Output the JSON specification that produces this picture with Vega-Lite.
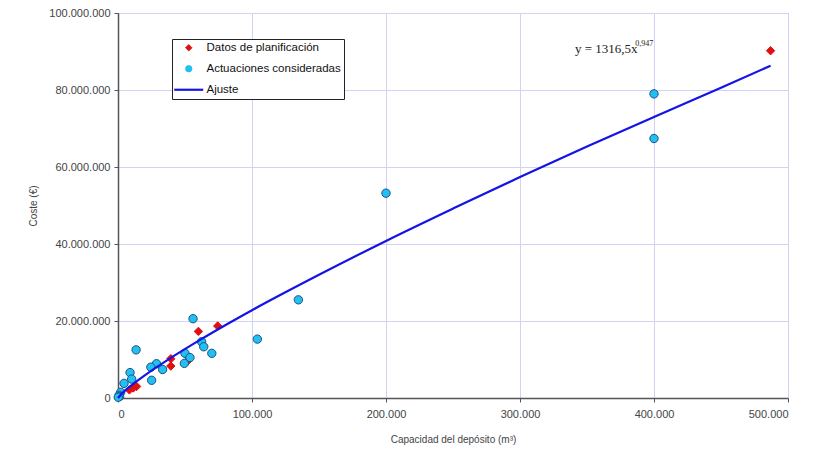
{
  "$schema": "https://vega.github.io/schema/vega-lite/v6.json",
  "width": 670,
  "height": 385,
  "autosize": {"type": "none"},
  "padding": {"left": 118, "top": 13, "right": 34, "bottom": 52},
  "background": "white",
  "config": {
    "locale": {"number": {"decimal": ",", "thousands": ".", "grouping": [3], "currency": ["", " €"]}},
    "font": "Liberation Sans",
    "view": {"stroke": "#8a8a8a", "strokeWidth": 1},
    "axis": {
      "labelFont": "Liberation Sans",
      "labelFontSize": 11,
      "labelColor": "#444444",
      "titleFont": "Liberation Sans",
      "titleFontSize": 10,
      "titleFontWeight": "normal",
      "titleColor": "#444444",
      "domainColor": "#555555",
      "domainWidth": 1.5,
      "tickColor": "#555555",
      "tickSize": 4,
      "gridColor": "#d2d2f5",
      "gridWidth": 1
    },
    "legend": {
      "orient": "none",
      "legendX": 54,
      "legendY": 26,
      "fillColor": "white",
      "strokeColor": "#222222",
      "padding": 3,
      "labelFont": "Liberation Sans",
      "labelFontSize": 11.5,
      "labelColor": "#111111",
      "labelOffset": 12,
      "symbolOffset": 8,
      "rowPadding": 8,
      "symbolOpacity": 1
    }
  },
  "datasets": {
    "puntos": [
      {"serie": "Datos de planificación", "capacidad": 487000, "coste": 90200000},
      {"serie": "Datos de planificación", "capacidad": 74400, "coste": 18700000},
      {"serie": "Datos de planificación", "capacidad": 60000, "coste": 17300000},
      {"serie": "Datos de planificación", "capacidad": 39400, "coste": 10200000},
      {"serie": "Datos de planificación", "capacidad": 39400, "coste": 8300000},
      {"serie": "Datos de planificación", "capacidad": 52000, "coste": 9600000},
      {"serie": "Datos de planificación", "capacidad": 13900, "coste": 3000000},
      {"serie": "Datos de planificación", "capacidad": 11400, "coste": 2600000},
      {"serie": "Datos de planificación", "capacidad": 8500, "coste": 2100000},
      {"serie": "Actuaciones consideradas", "capacidad": 400000, "coste": 79000000},
      {"serie": "Actuaciones consideradas", "capacidad": 400000, "coste": 67400000},
      {"serie": "Actuaciones consideradas", "capacidad": 200000, "coste": 53200000},
      {"serie": "Actuaciones consideradas", "capacidad": 134600, "coste": 25500000},
      {"serie": "Actuaciones consideradas", "capacidad": 104000, "coste": 15300000},
      {"serie": "Actuaciones consideradas", "capacidad": 56000, "coste": 20600000},
      {"serie": "Actuaciones consideradas", "capacidad": 62400, "coste": 14600000},
      {"serie": "Actuaciones consideradas", "capacidad": 64000, "coste": 13300000},
      {"serie": "Actuaciones consideradas", "capacidad": 70000, "coste": 11600000},
      {"serie": "Actuaciones consideradas", "capacidad": 50000, "coste": 11600000},
      {"serie": "Actuaciones consideradas", "capacidad": 53700, "coste": 10500000},
      {"serie": "Actuaciones consideradas", "capacidad": 49500, "coste": 9000000},
      {"serie": "Actuaciones consideradas", "capacidad": 33300, "coste": 7400000},
      {"serie": "Actuaciones consideradas", "capacidad": 28700, "coste": 8900000},
      {"serie": "Actuaciones consideradas", "capacidad": 24500, "coste": 8000000},
      {"serie": "Actuaciones consideradas", "capacidad": 25100, "coste": 4600000},
      {"serie": "Actuaciones consideradas", "capacidad": 13500, "coste": 12500000},
      {"serie": "Actuaciones consideradas", "capacidad": 9000, "coste": 6600000},
      {"serie": "Actuaciones consideradas", "capacidad": 10200, "coste": 4900000},
      {"serie": "Actuaciones consideradas", "capacidad": 4500, "coste": 3800000},
      {"serie": "Actuaciones consideradas", "capacidad": 2000, "coste": 1500000},
      {"serie": "Actuaciones consideradas", "capacidad": 800, "coste": 700000},
      {"serie": "Actuaciones consideradas", "capacidad": 1200, "coste": 400000},
      {"serie": "Actuaciones consideradas", "capacidad": 200, "coste": 200000}
    ],
    "ajuste": [
      {"serie": "Ajuste", "capacidad": 0, "coste": 0},
      {"serie": "Ajuste", "capacidad": 5000, "coste": 1840000},
      {"serie": "Ajuste", "capacidad": 10000, "coste": 3300000},
      {"serie": "Ajuste", "capacidad": 20000, "coste": 5900000},
      {"serie": "Ajuste", "capacidad": 40000, "coste": 10550000},
      {"serie": "Ajuste", "capacidad": 60000, "coste": 14840000},
      {"serie": "Ajuste", "capacidad": 80000, "coste": 18900000},
      {"serie": "Ajuste", "capacidad": 100000, "coste": 22800000},
      {"serie": "Ajuste", "capacidad": 150000, "coste": 32000000},
      {"serie": "Ajuste", "capacidad": 200000, "coste": 40800000},
      {"serie": "Ajuste", "capacidad": 250000, "coste": 49200000},
      {"serie": "Ajuste", "capacidad": 300000, "coste": 57400000},
      {"serie": "Ajuste", "capacidad": 350000, "coste": 65300000},
      {"serie": "Ajuste", "capacidad": 400000, "coste": 73000000},
      {"serie": "Ajuste", "capacidad": 450000, "coste": 80600000},
      {"serie": "Ajuste", "capacidad": 487000, "coste": 86300000}
    ],
    "ecuacion": [
      {"capacidad": 341000, "coste": 90600000, "texto": "y = 1316,5x", "parte": "base"},
      {"capacidad": 386000, "coste": 91900000, "texto": "0,947", "parte": "exponente"}
    ]
  },
  "encoding": {
    "x": {
      "field": "capacidad",
      "type": "quantitative",
      "scale": {"domain": [0, 500000], "nice": false, "zero": true},
      "axis": {"values": [0, 100000, 200000, 300000, 400000, 500000], "format": ",d", "title": "Capacidad del depósito (m³)", "titlePadding": 15, "labelPadding": 6}
    },
    "y": {
      "field": "coste",
      "type": "quantitative",
      "scale": {"domain": [0, 100000000], "nice": false},
      "axis": {"values": [0, 20000000, 40000000, 60000000, 80000000, 100000000], "format": ",d", "title": "Coste (€)", "titlePadding": 10, "labelPadding": 4}
    }
  },
  "layer": [
    {
      "data": {"name": "puntos"},
      "mark": {"type": "point", "filled": true, "opacity": 1, "strokeWidth": 1, "size": 70},
      "encoding": {
        "color": {
          "field": "serie", "type": "nominal",
          "scale": {"domain": ["Datos de planificación", "Actuaciones consideradas", "Ajuste"], "range": ["#e01010", "#20c0f0", "#1414e6"]},
          "legend": {
            "title": null,
            "encode": {
              "symbols": {
                "update": {
                  "size": {"signal": "datum.value === 'Ajuste' ? 841 : 40"},
                  "stroke": {"signal": "datum.value === 'Ajuste' ? '#1414e6' : (datum.value === 'Actuaciones consideradas' ? '#1f4f86' : '#e01010')"},
                  "strokeWidth": {"signal": "datum.value === 'Ajuste' ? 2.2 : 1"}
                }
              }
            }
          }
        },
        "shape": {
          "field": "serie", "type": "nominal",
          "scale": {"domain": ["Datos de planificación", "Actuaciones consideradas", "Ajuste"], "range": ["diamond", "circle", "stroke"]},
          "legend": {"title": null}
        },
        "stroke": {
          "field": "serie", "type": "nominal",
          "scale": {"domain": ["Datos de planificación", "Actuaciones consideradas", "Ajuste"], "range": ["#e01010", "#1f4f86", "#1414e6"]},
          "legend": null
        }
      }
    },
    {
      "data": {"name": "ajuste"},
      "mark": {"type": "line", "strokeWidth": 2.2, "interpolate": "monotone"},
      "encoding": {
        "color": {"field": "serie", "type": "nominal", "legend": {"title": null}}
      }
    },
    {
      "data": {"name": "ecuacion"},
      "transform": [{"filter": "datum.parte === 'base'"}],
      "mark": {"type": "text", "align": "left", "baseline": "middle", "font": "Liberation Serif", "fontSize": 13, "color": "#222222"},
      "encoding": {"text": {"field": "texto"}}
    },
    {
      "data": {"name": "ecuacion"},
      "transform": [{"filter": "datum.parte === 'exponente'"}],
      "mark": {"type": "text", "align": "left", "baseline": "middle", "font": "Liberation Serif", "fontSize": 8, "color": "#222222"},
      "encoding": {"text": {"field": "texto"}}
    }
  ],
  "resolve": {"scale": {"color": "shared"}}
}
